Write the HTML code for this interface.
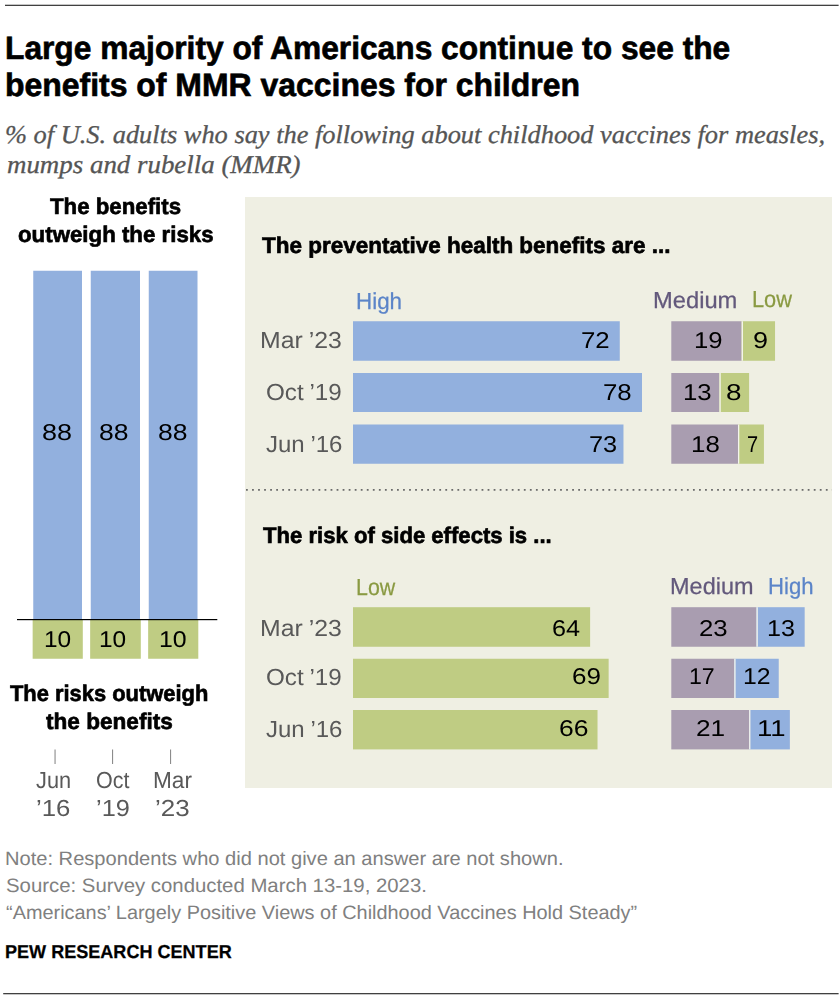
<!DOCTYPE html>
<html><head><meta charset="utf-8"><title>chart</title>
<style>
html,body{margin:0;padding:0;background:#fff}
#c{position:relative;width:840px;height:1000px;overflow:hidden;background:#fff;font-family:"Liberation Sans",sans-serif}
#c svg{position:absolute;left:0;top:0}
#g{position:absolute;left:0;top:0;width:840px;height:1000px;will-change:transform}
.t{position:absolute;white-space:nowrap;text-rendering:geometricPrecision;line-height:1;transform-origin:0 0;font-family:"Liberation Sans",sans-serif}
.b{font-weight:bold;-webkit-text-stroke:0.65px #000}
.s{font-family:"Liberation Serif",serif;font-style:italic;-webkit-text-stroke:0.3px #555}
</style></head><body>
<div id="c">
<svg width="840" height="1000" viewBox="0 0 840 1000">
<rect x="5.00" y="4.70" width="833.60" height="1.30" fill="#404040"/>
<rect x="3.20" y="993.00" width="835.40" height="1.30" fill="#404040"/>
<rect x="245.00" y="197.00" width="587.00" height="591.00" fill="#efefe3"/>
<rect x="33.25" y="270.75" width="48.75" height="348.75" fill="#92b0de"/>
<rect x="32.65" y="619.50" width="50.15" height="39.25" fill="#bfcc83"/>
<rect x="90.75" y="270.75" width="49.25" height="348.75" fill="#92b0de"/>
<rect x="90.15" y="619.50" width="50.65" height="39.25" fill="#bfcc83"/>
<rect x="148.75" y="270.75" width="48.75" height="348.75" fill="#92b0de"/>
<rect x="148.15" y="619.50" width="50.15" height="39.25" fill="#bfcc83"/>
<rect x="17.00" y="619.00" width="200.30" height="1.20" fill="#000"/>
<rect x="54.50" y="749.50" width="1.10" height="14.50" fill="#8c8c8c"/>
<rect x="112.00" y="749.50" width="1.10" height="14.50" fill="#8c8c8c"/>
<rect x="170.00" y="749.50" width="1.10" height="14.50" fill="#8c8c8c"/>
<rect x="353.00" y="321.25" width="266.76" height="39.50" fill="#92b0de"/>
<rect x="671.30" y="321.25" width="70.39" height="39.50" fill="#a99db0"/>
<rect x="741.69" y="321.25" width="33.35" height="39.50" fill="#bfcc83"/>
<rect x="741.69" y="321.25" width="1.30" height="39.50" fill="#f4f4ec"/>
<rect x="353.00" y="373.00" width="288.99" height="39.00" fill="#92b0de"/>
<rect x="671.30" y="373.00" width="48.16" height="39.00" fill="#a99db0"/>
<rect x="719.46" y="373.00" width="29.64" height="39.00" fill="#bfcc83"/>
<rect x="719.46" y="373.00" width="1.30" height="39.00" fill="#f4f4ec"/>
<rect x="353.00" y="424.50" width="270.47" height="39.25" fill="#92b0de"/>
<rect x="671.30" y="424.50" width="66.69" height="39.25" fill="#a99db0"/>
<rect x="737.99" y="424.50" width="25.93" height="39.25" fill="#bfcc83"/>
<rect x="737.99" y="424.50" width="1.30" height="39.25" fill="#f4f4ec"/>
<rect x="353.00" y="607.20" width="237.12" height="39.55" fill="#bfcc83"/>
<rect x="671.30" y="607.20" width="85.22" height="39.55" fill="#a99db0"/>
<rect x="756.51" y="607.20" width="48.16" height="39.55" fill="#92b0de"/>
<rect x="756.51" y="607.20" width="1.30" height="39.55" fill="#f4f4ec"/>
<rect x="353.00" y="658.75" width="255.64" height="39.25" fill="#bfcc83"/>
<rect x="671.30" y="658.75" width="62.99" height="39.25" fill="#a99db0"/>
<rect x="734.28" y="658.75" width="44.46" height="39.25" fill="#92b0de"/>
<rect x="734.28" y="658.75" width="1.30" height="39.25" fill="#f4f4ec"/>
<rect x="353.00" y="710.00" width="244.53" height="39.40" fill="#bfcc83"/>
<rect x="671.30" y="710.00" width="77.81" height="39.40" fill="#a99db0"/>
<rect x="749.11" y="710.00" width="40.75" height="39.40" fill="#92b0de"/>
<rect x="749.11" y="710.00" width="1.30" height="39.40" fill="#f4f4ec"/>
<line x1="246" y1="489.9" x2="832" y2="489.9" stroke="#6a6a6a" stroke-width="1.8" stroke-dasharray="1.8 4.24"/>
</svg>
<span class="t b" style="left:5.04px;top:31.75px;font-size:32.37px;transform:scaleX(0.9805);color:#000">Large majority of Americans continue to see the</span>
<span class="t b" style="left:5.03px;top:69.25px;font-size:32.37px;transform:scaleX(0.9869);color:#000">benefits of MMR vaccines for children</span>
<span class="t s" style="left:5.22px;top:122.00px;font-size:25.57px;transform:scaleX(1.0321);color:#555555">% of U.S. adults who say the following about childhood vaccines for measles,</span>
<span class="t s" style="left:6.50px;top:151.50px;font-size:25.57px;transform:scaleX(1.0521);color:#555555">mumps and rubella (MMR)</span>
<span class="t" style="left:5.21px;top:850.40px;font-size:19.42px;transform:scaleX(1.0355);color:#808080">Note: Respondents who did not give an answer are not shown.</span>
<span class="t" style="left:6.25px;top:877.00px;font-size:19.42px;transform:scaleX(1.0489);color:#808080">Source: Survey conducted March 13-19, 2023.</span>
<span class="t" style="left:6.25px;top:903.90px;font-size:19.42px;transform:scaleX(1.0254);color:#808080">“Americans’ Largely Positive Views of Childhood Vaccines Hold Steady”</span>
<span class="t b" style="left:5.28px;top:942.50px;font-size:18.71px;transform:scaleX(0.9662);color:#000;-webkit-text-stroke-width:0.25px">PEW RESEARCH CENTER</span>
<div id="g">
<span class="t b" style="left:49.50px;top:195.50px;font-size:22.59px;transform:scaleX(0.9855);color:#000">The benefits</span>
<span class="t b" style="left:17.50px;top:223.50px;font-size:22.59px;transform:scaleX(0.9865);color:#000">outweigh the risks</span>
<span class="t b" style="left:10.00px;top:683.00px;font-size:22.59px;transform:scaleX(0.9696);color:#000">The risks outweigh</span>
<span class="t b" style="left:45.75px;top:710.50px;font-size:22.59px;transform:scaleX(1.0008);color:#000">the benefits</span>
<span class="t" style="left:42.07px;top:421.30px;font-size:22.90px;transform:scaleX(1.1799);color:#000">88</span>
<span class="t" style="left:98.84px;top:421.30px;font-size:22.90px;transform:scaleX(1.1588);color:#000">88</span>
<span class="t" style="left:157.59px;top:421.30px;font-size:22.90px;transform:scaleX(1.1588);color:#000">88</span>
<span class="t" style="left:43.63px;top:627.60px;font-size:22.90px;transform:scaleX(1.0661);color:#000">10</span>
<span class="t" style="left:98.63px;top:627.60px;font-size:22.90px;transform:scaleX(1.0661);color:#000">10</span>
<span class="t" style="left:158.91px;top:627.60px;font-size:22.90px;transform:scaleX(1.0872);color:#000">10</span>
<span class="t" style="left:35.75px;top:768.50px;font-size:23.19px;transform:scaleX(0.9386);color:#595959">Jun</span>
<span class="t" style="left:35.89px;top:796.75px;font-size:23.19px;transform:scaleX(1.1103);color:#595959">’16</span>
<span class="t" style="left:96.07px;top:768.50px;font-size:23.19px;transform:scaleX(0.9262);color:#595959">Oct</span>
<span class="t" style="left:95.91px;top:796.75px;font-size:23.19px;transform:scaleX(1.0930);color:#595959">’19</span>
<span class="t" style="left:152.77px;top:768.50px;font-size:23.19px;transform:scaleX(0.9755);color:#595959">Mar</span>
<span class="t" style="left:155.13px;top:796.75px;font-size:23.19px;transform:scaleX(1.1189);color:#595959">’23</span>
<span class="t b" style="left:262.00px;top:235.25px;font-size:22.59px;transform:scaleX(0.9957);color:#000">The preventative health benefits are ...</span>
<span class="t b" style="left:262.50px;top:524.50px;font-size:22.59px;transform:scaleX(0.9792);color:#000">The risk of side effects is ...</span>
<span class="t" style="left:356.03px;top:289.75px;font-size:23.19px;transform:scaleX(0.9663);color:#5b84c8;-webkit-text-stroke-width:0.25px">High</span>
<span class="t" style="left:652.73px;top:289.25px;font-size:23.19px;transform:scaleX(1.0230);color:#63597c;-webkit-text-stroke-width:0.25px">Medium</span>
<span class="t" style="left:752.31px;top:287.70px;font-size:23.19px;transform:scaleX(0.9392);color:#8a9a42;-webkit-text-stroke-width:0.25px">Low</span>
<span class="t" style="left:356.08px;top:575.50px;font-size:23.19px;transform:scaleX(0.9212);color:#8a9a42;-webkit-text-stroke-width:0.25px">Low</span>
<span class="t" style="left:669.99px;top:575.00px;font-size:23.19px;transform:scaleX(1.0130);color:#63597c;-webkit-text-stroke-width:0.25px">Medium</span>
<span class="t" style="left:767.55px;top:575.00px;font-size:23.19px;transform:scaleX(0.9543);color:#5b84c8;-webkit-text-stroke-width:0.25px">High</span>
<span class="t" style="left:260.43px;top:329.00px;font-size:23.19px;transform:scaleX(1.0705);color:#595959;word-spacing:-0.93px">Mar ’23</span>
<span class="t" style="left:260.43px;top:617.00px;font-size:23.19px;transform:scaleX(1.0705);color:#595959;word-spacing:-0.93px">Mar ’23</span>
<span class="t" style="left:266.46px;top:381.40px;font-size:23.19px;transform:scaleX(1.0441);color:#595959;word-spacing:-0.93px">Oct ’19</span>
<span class="t" style="left:266.46px;top:666.00px;font-size:23.19px;transform:scaleX(1.0441);color:#595959;word-spacing:-0.93px">Oct ’19</span>
<span class="t" style="left:265.75px;top:433.00px;font-size:23.19px;transform:scaleX(1.0350);color:#595959;word-spacing:-0.93px">Jun ’16</span>
<span class="t" style="left:265.75px;top:717.70px;font-size:23.19px;transform:scaleX(1.0350);color:#595959;word-spacing:-0.93px">Jun ’16</span>
<span class="t" style="left:580.87px;top:328.60px;font-size:22.90px;transform:scaleX(1.1272);color:#000">72</span>
<span class="t" style="left:602.62px;top:381.10px;font-size:22.90px;transform:scaleX(1.1272);color:#000">78</span>
<span class="t" style="left:589.39px;top:432.60px;font-size:22.90px;transform:scaleX(1.1062);color:#000">73</span>
<span class="t" style="left:694.48px;top:328.60px;font-size:22.90px;transform:scaleX(1.1209);color:#000">19</span>
<span class="t" style="left:753.22px;top:328.60px;font-size:22.90px;transform:scaleX(1.1818);color:#000">9</span>
<span class="t" style="left:683.17px;top:381.10px;font-size:22.90px;transform:scaleX(1.1251);color:#000">13</span>
<span class="t" style="left:726.38px;top:381.10px;font-size:22.90px;transform:scaleX(1.2182);color:#000">8</span>
<span class="t" style="left:690.67px;top:432.60px;font-size:22.90px;transform:scaleX(1.1293);color:#000">18</span>
<span class="t" style="left:746.63px;top:432.60px;font-size:22.90px;transform:scaleX(0.8727);color:#000">7</span>
<span class="t" style="left:552.15px;top:616.85px;font-size:22.90px;transform:scaleX(1.1019);color:#000">64</span>
<span class="t" style="left:571.86px;top:665.10px;font-size:22.90px;transform:scaleX(1.1378);color:#000">69</span>
<span class="t" style="left:558.84px;top:716.85px;font-size:22.90px;transform:scaleX(1.1588);color:#000">66</span>
<span class="t" style="left:699.27px;top:616.85px;font-size:22.90px;transform:scaleX(1.1251);color:#000">23</span>
<span class="t" style="left:766.80px;top:616.85px;font-size:22.90px;transform:scaleX(1.0998);color:#000">13</span>
<span class="t" style="left:689.29px;top:665.10px;font-size:22.90px;transform:scaleX(1.0113);color:#000">17</span>
<span class="t" style="left:742.52px;top:665.10px;font-size:22.90px;transform:scaleX(1.0830);color:#000">12</span>
<span class="t" style="left:695.55px;top:716.85px;font-size:22.90px;transform:scaleX(1.1462);color:#000">21</span>
<span class="t" style="left:756.60px;top:716.85px;font-size:22.90px;transform:scaleX(1.2028);color:#000">11</span>
</div>
</div>
</body></html>
